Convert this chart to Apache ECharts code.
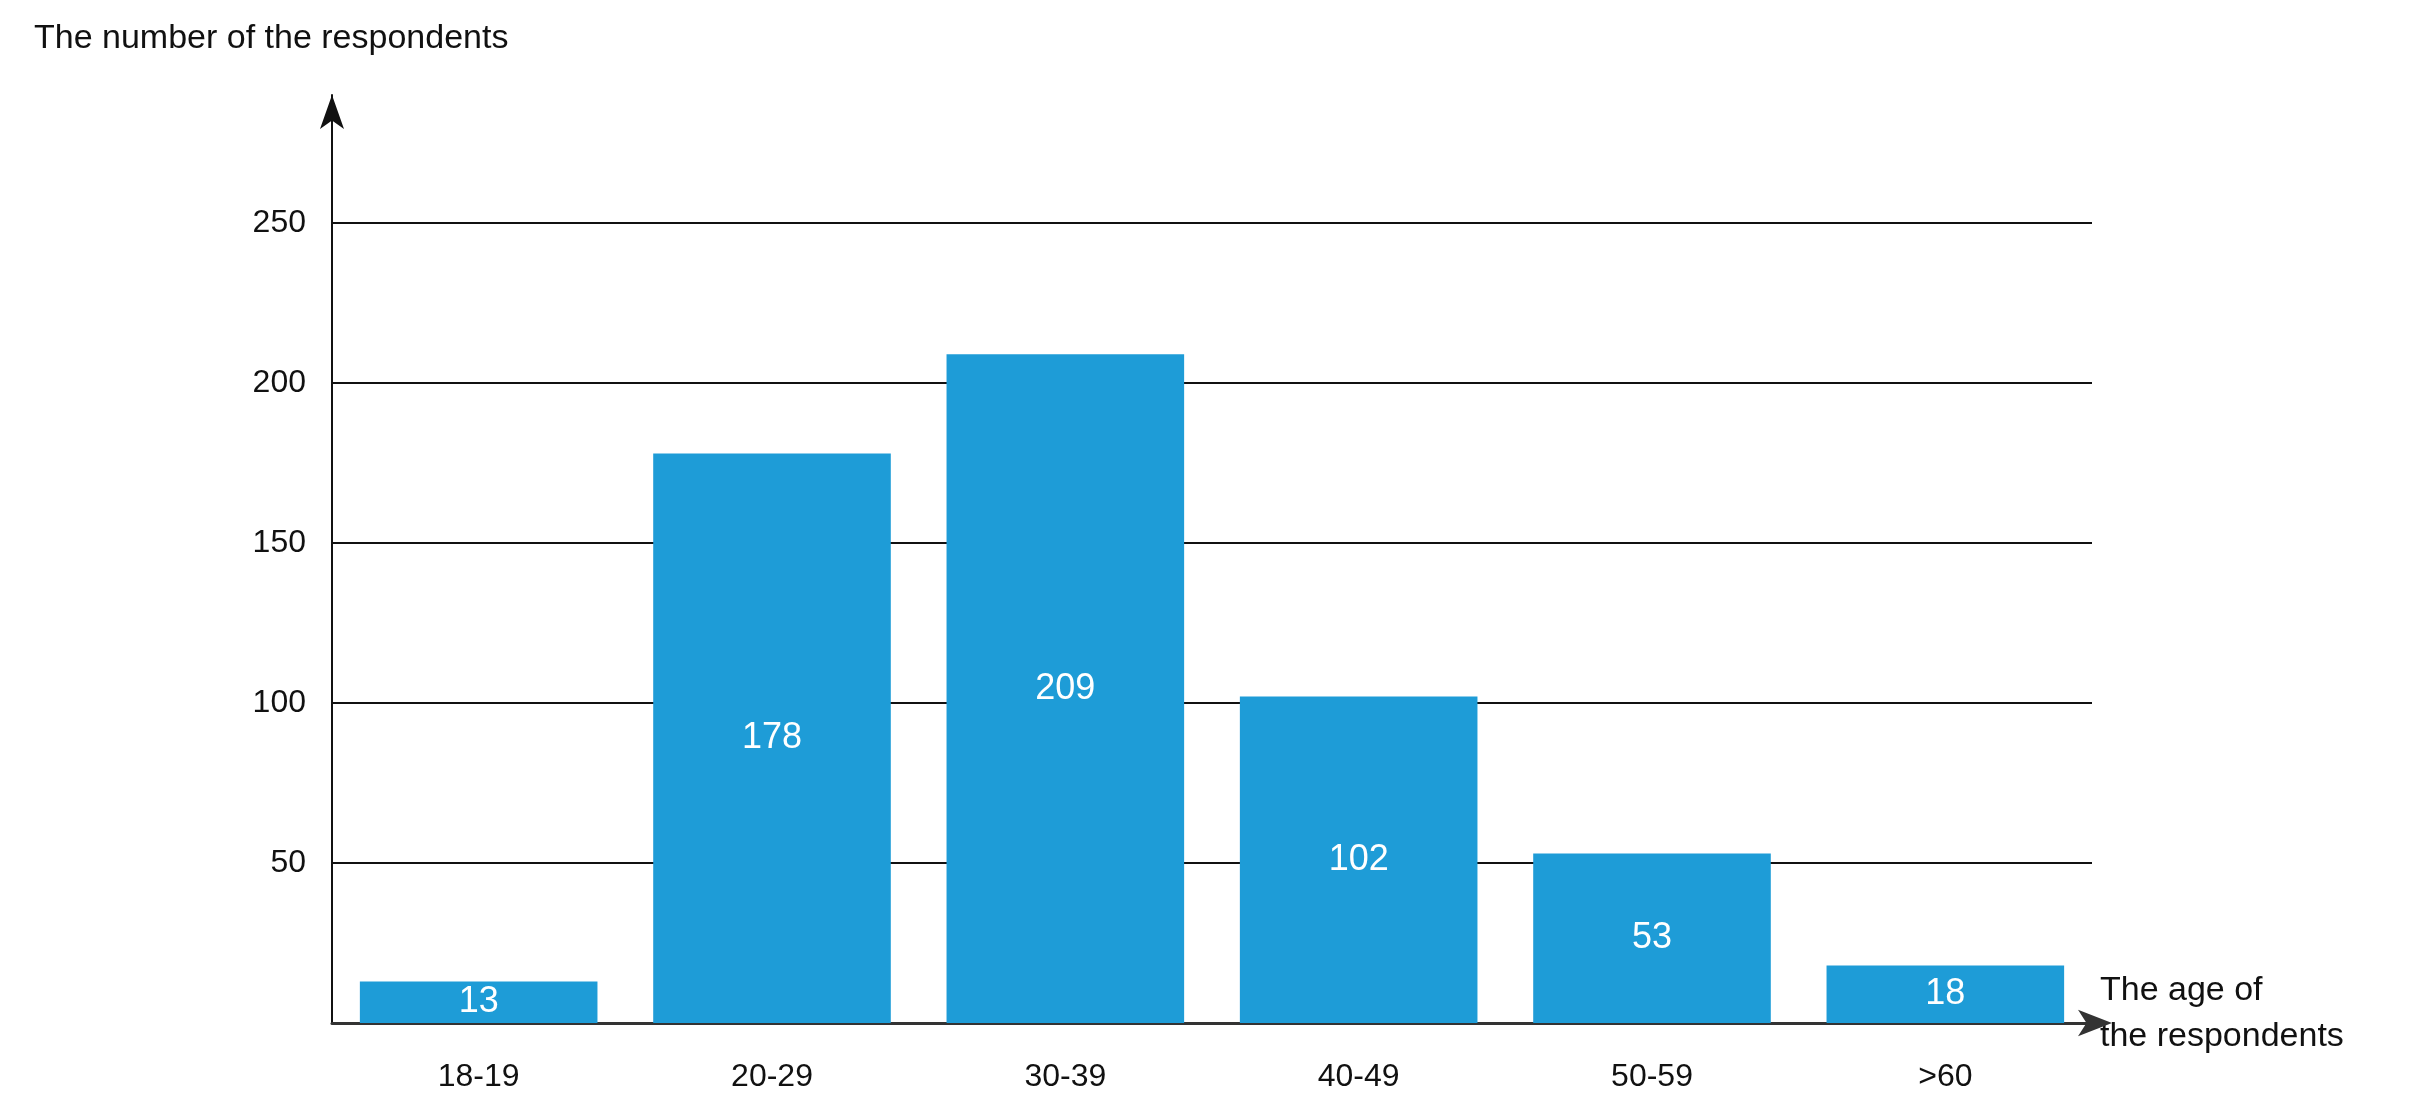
<!DOCTYPE html>
<html>
<head>
<meta charset="utf-8">
<script src="https://cdn.jsdelivr.net/npm/echarts@6/dist/echarts.min.js"></script>
<style>html,body{margin:0;padding:0;background:#fff}#chart{width:2422px;height:1106px}</style>
</head>
<body>
<div id="chart"></div>
<script>
var ageGroups = ['18-19', '20-29', '30-39', '40-49', '50-59', '>60'];
var respondents = [13, 178, 209, 102, 53, 18];
var gridValues = [50, 100, 150, 200, 250];

var myChart = echarts.init(document.getElementById('chart'));
myChart.setOption({
    animation: false,
    textStyle: {fontFamily: 'Liberation Sans'},
    grid: {left: 332, right: 330, top: 95, bottom: 83},
    graphic: [
        {type: 'text', left: 34, top: 22, style: {text: 'The number of the respondents', fontSize: 34, fill: '#111', fontFamily: 'Liberation Sans'}},
        {type: 'text', left: 2100, top: 968, style: {text: 'The age of\nthe respondents', fontSize: 34, lineHeight: 46, fill: '#111', align: 'center', x: 140, fontFamily: 'Liberation Sans'}}
    ],
    xAxis: {
        type: 'category',
        data: ageGroups,
        axisLine: {lineStyle: {color: '#333', width: 3}, symbol: ['none', 'arrow'], symbolSize: [20, 34], symbolOffset: [0, 20]},
        axisTick: {show: false},
        axisLabel: {color: '#111', fontSize: 32, margin: 38}
    },
    yAxis: {
        type: 'value',
        min: 0, max: 290, interval: 50,
        splitLine: {show: false},
        axisLine: {show: true, lineStyle: {color: '#111', width: 2}, symbol: ['none', 'arrow'], symbolSize: [18, 34]},
        axisTick: {show: false},
        axisLabel: {color: '#111', fontSize: 32, margin: 26,
            formatter: function (v) { return (v > 0 && v % 50 === 0) ? v : ''; }}
    },
    series: [{
        type: 'bar',
        data: respondents,
        barCategoryGap: '19%',
        itemStyle: {color: '#1e9cd7'},
        z: 3,
        label: {show: true, position: 'inside', color: '#fff', fontSize: 36},
        markLine: {
            silent: true,
            symbol: 'none',
            label: {show: false},
            lineStyle: {color: '#111', width: 2, type: 'solid'},
            z: 1,
            data: gridValues.map(function (v) { return {yAxis: v}; })
        }
    }]
});
</script>
</body>
</html>
